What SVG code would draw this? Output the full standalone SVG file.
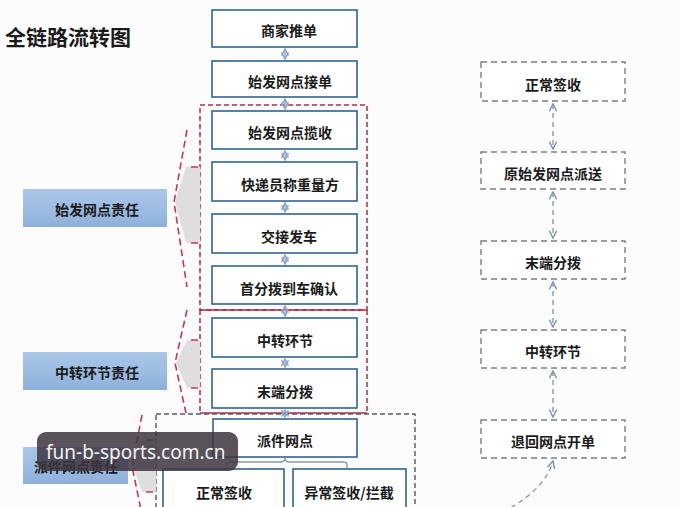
<svg xmlns="http://www.w3.org/2000/svg" width="679" height="507" viewBox="0 0 679 507">
<defs>
<style>
.t{font-family:"Noto Sans CJK SC","Noto Sans",sans-serif;font-weight:bold;font-size:14px;fill:#1a1a1a;text-anchor:middle;dominant-baseline:central}
.mb{fill:#fff;stroke:#2f6390;stroke-width:1.6}
.rb{fill:#fff;stroke:#7a7f86;stroke-width:1.4;stroke-dasharray:6 4}
.lb{fill:url(#lg);stroke:none}
.red{fill:none;stroke:#b02a48;stroke-width:1.5;stroke-dasharray:5 3}
.redsolid{fill:none;stroke:#b02a48;stroke-width:1.5}
.fun{fill:#dedede;stroke:none}
.fl{fill:none;stroke:#c8365a;stroke-width:1.6;stroke-dasharray:7 4}
.mc{stroke:#8fa6cc;stroke-width:1.4;fill:none}
.rc{stroke:#8293a8;stroke-width:1.3;fill:none;stroke-dasharray:5 4}
</style>
<linearGradient id="lg" x1="0" y1="0" x2="0" y2="1">
<stop offset="0" stop-color="#a9c6e8"/>
<stop offset="0.5" stop-color="#9ebde3"/>
<stop offset="1" stop-color="#8cafd9"/>
</linearGradient>
<marker id="ah" viewBox="0 0 10 10" refX="9" refY="5" markerWidth="6" markerHeight="6" orient="auto-start-reverse">
<path d="M1,1 L9,5 L1,9" fill="none" stroke="#8fa6cc" stroke-width="1.8"/>
</marker>
<marker id="ar" viewBox="0 0 10 10" refX="9" refY="5" markerWidth="7" markerHeight="7" orient="auto-start-reverse">
<path d="M1,1 L9,5 L1,9" fill="none" stroke="#8293a8" stroke-width="1.6"/>
</marker>
</defs>
<rect width="679" height="507" fill="#fcfcfc"/>

<text x="5" y="36" style="font-family:'Noto Sans CJK SC','Noto Sans',sans-serif;font-weight:bold;font-size:21px;fill:#1a1a1a;dominant-baseline:central">全链路流转图</text>

<g id="regions">
<rect class="red" x="200" y="105" width="167" height="205"/>
<path class="red" d="M200,310 V413 M367,310 V413"/>
<path class="redsolid" d="M200,310 H367 M200,413 H367"/>
<rect x="156" y="414" width="259" height="120" fill="none" stroke="#555a60" stroke-width="1.4" stroke-dasharray="5 3"/>
</g>

<g id="funnels">
<polygon class="fun" points="200,167 186,167 175,202 186,243 200,243"/>
<path class="fl" d="M187,130 L174,202 L187,287"/>
<path class="fl" d="M191,167 H200 M191,243 H200"/>
<polygon class="fun" points="200,340 187,340 176,363 187,388 200,388"/>
<path class="fl" d="M187,310 L175,363 L186,413"/>
<path class="fl" d="M191,340 H200 M191,388 H200"/>
<polygon class="fun" points="156,440 142,440 133,466 142,492 156,492"/>
<path class="fl" d="M142,415 L132,466 L141,510"/>
<path class="fl" d="M146,440 H156 M146,492 H156"/>
</g>

<g id="label-shifa"><rect class="lb" x="23" y="189" width="144" height="38"/><text class="t" x="97" y="209">始发网点责任</text></g>
<g id="label-zhongzhuan"><rect class="lb" x="23" y="352" width="144" height="38"/><text class="t" x="97" y="372">中转环节责任</text></g>
<g id="label-paijian"><rect class="lb" x="23" y="447" width="105" height="37"/><text class="t" x="76" y="466">派件网点责任</text></g>

<g id="connectors">
<line class="mc" x1="285" y1="49" x2="285" y2="59" marker-start="url(#ah)" marker-end="url(#ah)"/>
<line class="mc" x1="285" y1="99" x2="285" y2="109" marker-start="url(#ah)" marker-end="url(#ah)"/>
<line class="mc" x1="285" y1="151" x2="285" y2="160" marker-start="url(#ah)" marker-end="url(#ah)"/>
<line class="mc" x1="285" y1="203" x2="285" y2="212" marker-start="url(#ah)" marker-end="url(#ah)"/>
<line class="mc" x1="285" y1="255" x2="285" y2="264" marker-start="url(#ah)" marker-end="url(#ah)"/>
<line class="mc" x1="285" y1="306" x2="285" y2="316" marker-start="url(#ah)" marker-end="url(#ah)"/>
<line class="mc" x1="285" y1="359" x2="285" y2="367" marker-start="url(#ah)" marker-end="url(#ah)"/>
<line class="mc" x1="285" y1="410" x2="285" y2="417" marker-start="url(#ah)" marker-end="url(#ah)"/>
<path d="M227,468 V464 Q227,462 232,462 H280 Q285,462 285,458 Q285,462 290,462 H342 Q347,462 347,464 V468" fill="none" stroke="#8a98aa" stroke-width="1.4"/>
<line class="rc" x1="553" y1="104" x2="553" y2="149" marker-start="url(#ar)" marker-end="url(#ar)"/>
<line class="rc" x1="553" y1="192" x2="553" y2="238" marker-start="url(#ar)" marker-end="url(#ar)"/>
<line class="rc" x1="553" y1="282" x2="553" y2="327" marker-start="url(#ar)" marker-end="url(#ar)"/>
<line class="rc" x1="553" y1="371" x2="553" y2="417" marker-start="url(#ar)" marker-end="url(#ar)"/>
<path class="rc" d="M503,512 Q545,490 553,461" marker-end="url(#ar)"/>
</g>

<g id="n1"><rect class="mb" x="212" y="10" width="145" height="37"/><text class="t" x="289" y="30">商家推单</text></g>
<g id="n2"><rect class="mb" x="212" y="61" width="145" height="36"/><text class="t" x="290" y="81">始发网点接单</text></g>
<g id="n3"><rect class="mb" x="212" y="111" width="145" height="38"/><text class="t" x="290" y="132">始发网点揽收</text></g>
<g id="n4"><rect class="mb" x="212" y="162" width="145" height="39"/><text class="t" x="290" y="184">快递员称重量方</text></g>
<g id="n5"><rect class="mb" x="212" y="214" width="145" height="39"/><text class="t" x="289" y="236">交接发车</text></g>
<g id="n6"><rect class="mb" x="212" y="266" width="145" height="38"/><text class="t" x="289" y="288">首分拨到车确认</text></g>
<g id="n7"><rect class="mb" x="212" y="318" width="145" height="39"/><text class="t" x="285" y="340">中转环节</text></g>
<g id="n8"><rect class="mb" x="212" y="369" width="145" height="39"/><text class="t" x="285" y="391">末端分拨</text></g>
<g id="n9"><rect class="mb" x="213" y="419" width="144" height="38"/><text class="t" x="285" y="440">派件网点</text></g>
<g id="n10"><rect class="mb" x="163" y="469" width="121" height="45"/><text class="t" x="224" y="492">正常签收</text></g>
<g id="n11"><rect class="mb" x="293" y="469" width="113" height="45"/><text class="t" x="349" y="492">异常签收/拦截</text></g>

<g id="r1"><rect class="rb" x="481" y="62" width="144" height="39"/><text class="t" x="553" y="84">正常签收</text></g>
<g id="r2"><rect class="rb" x="481" y="152" width="144" height="37"/><text class="t" x="553" y="173">原始发网点派送</text></g>
<g id="r3"><rect class="rb" x="481" y="241" width="144" height="38"/><text class="t" x="553" y="262">末端分拨</text></g>
<g id="r4"><rect class="rb" x="481" y="330" width="144" height="38"/><text class="t" x="553" y="351">中转环节</text></g>
<g id="r5"><rect class="rb" x="481" y="420" width="144" height="38"/><text class="t" x="553" y="441">退回网点开单</text></g>

<g id="watermark">
<rect x="37" y="432" width="201" height="39" rx="9" fill="#3d3540" fill-opacity="0.85"/>
<text x="46" y="459" style="font-family:'Noto Sans','Open Sans',sans-serif;font-size:19px;fill:#f2f2f2">fun-b-sports.com.cn</text>
</g>
</svg>
